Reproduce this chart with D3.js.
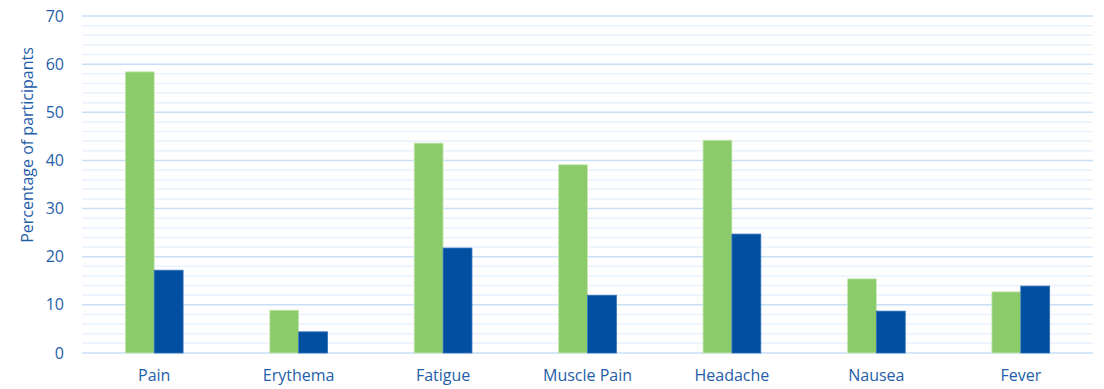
<!DOCTYPE html>
<html>
<head>
<meta charset="utf-8">
<script src="https://cdn.jsdelivr.net/npm/d3@7"></script>
<style>
  html, body { margin: 0; padding: 0; background: #fff; }
  svg { display: block; font-family: "Open Sans", "Noto Sans", sans-serif; }
</style>
</head>
<body>
<svg id="chart" width="1104" height="389"></svg>
<script>
const categories = ["Pain", "Erythema", "Fatigue", "Muscle Pain", "Headache", "Nausea", "Fever"];
const seriesA = [58.4, 8.9, 43.6, 39.1, 44.2, 15.4, 12.7];
const seriesB = [17.2, 4.4, 21.8, 12.0, 24.7, 8.7, 13.9];
const yTicks = [0, 10, 20, 30, 40, 50, 60, 70];
const yMinorTicks = d3.range(0, 71, 2);
const yTitle = "Percentage of participants";

const svg = d3.select("#chart");
const margin = { left: 82, right: 11, top: 16, bottom: 36 };
const W = 1104, H = 389;
const textColor = "#1f5ea8";

const x = d3.scaleBand().domain(categories).range([margin.left, W - margin.right]);
const y = d3.scaleLinear().domain([0, 70]).range([H - margin.bottom, margin.top]);

// minor grid
svg.append("g").selectAll("line").data(yMinorTicks.filter(v => v % 10 !== 0)).join("line")
  .attr("x1", margin.left).attr("x2", W - margin.right)
  .attr("y1", d => y(d)).attr("y2", d => y(d))
  .attr("stroke", "#e9f2fd").attr("stroke-width", 1.5);

// major grid
svg.append("g").selectAll("line").data(yTicks).join("line")
  .attr("x1", margin.left).attr("x2", W - margin.right)
  .attr("y1", d => y(d)).attr("y2", d => y(d))
  .attr("stroke", "#c8dff7").attr("stroke-width", 1.5);

// y axis labels
const yAxis = d3.axisLeft(y).tickValues(yTicks).tickSize(0).tickPadding(18);
const gy = svg.append("g").attr("transform", `translate(${margin.left},0)`).call(yAxis);
gy.select(".domain").remove();
gy.selectAll("text").attr("fill", textColor).style("font-size", "16px")
  .style("font-family", "'Open Sans', sans-serif");

// x axis labels
const xAxis = d3.axisBottom(x).tickSize(0).tickPadding(17);
const gx = svg.append("g").attr("transform", `translate(0,${y(0)})`).call(xAxis);
gx.select(".domain").remove();
gx.selectAll("text").attr("fill", textColor).style("font-size", "16px")
  .style("font-family", "'Open Sans', sans-serif");

// bars
const barW = x.bandwidth() * 0.2;
const groups = svg.append("g").selectAll("g").data(categories).join("g");
groups.append("rect")
  .attr("x", (d) => x(d) + x.bandwidth() / 2 - barW)
  .attr("y", (d, i) => y(seriesA[i]))
  .attr("width", barW)
  .attr("height", (d, i) => y(0) - y(seriesA[i]))
  .attr("fill", "#8ccb6a").attr("stroke", "#c9e8b8").attr("stroke-width", 0.8);
groups.append("rect")
  .attr("x", (d) => x(d) + x.bandwidth() / 2)
  .attr("y", (d, i) => y(seriesB[i]))
  .attr("width", barW)
  .attr("height", (d, i) => y(0) - y(seriesB[i]))
  .attr("fill", "#004fa0").attr("stroke", "#3372b8").attr("stroke-width", 0.8);

// y title
svg.append("text")
  .attr("transform", "translate(33,145) rotate(-90)")
  .attr("text-anchor", "middle")
  .attr("fill", textColor)
  .style("font-size", "16px")
  .text(yTitle);
</script>
</body>
</html>
